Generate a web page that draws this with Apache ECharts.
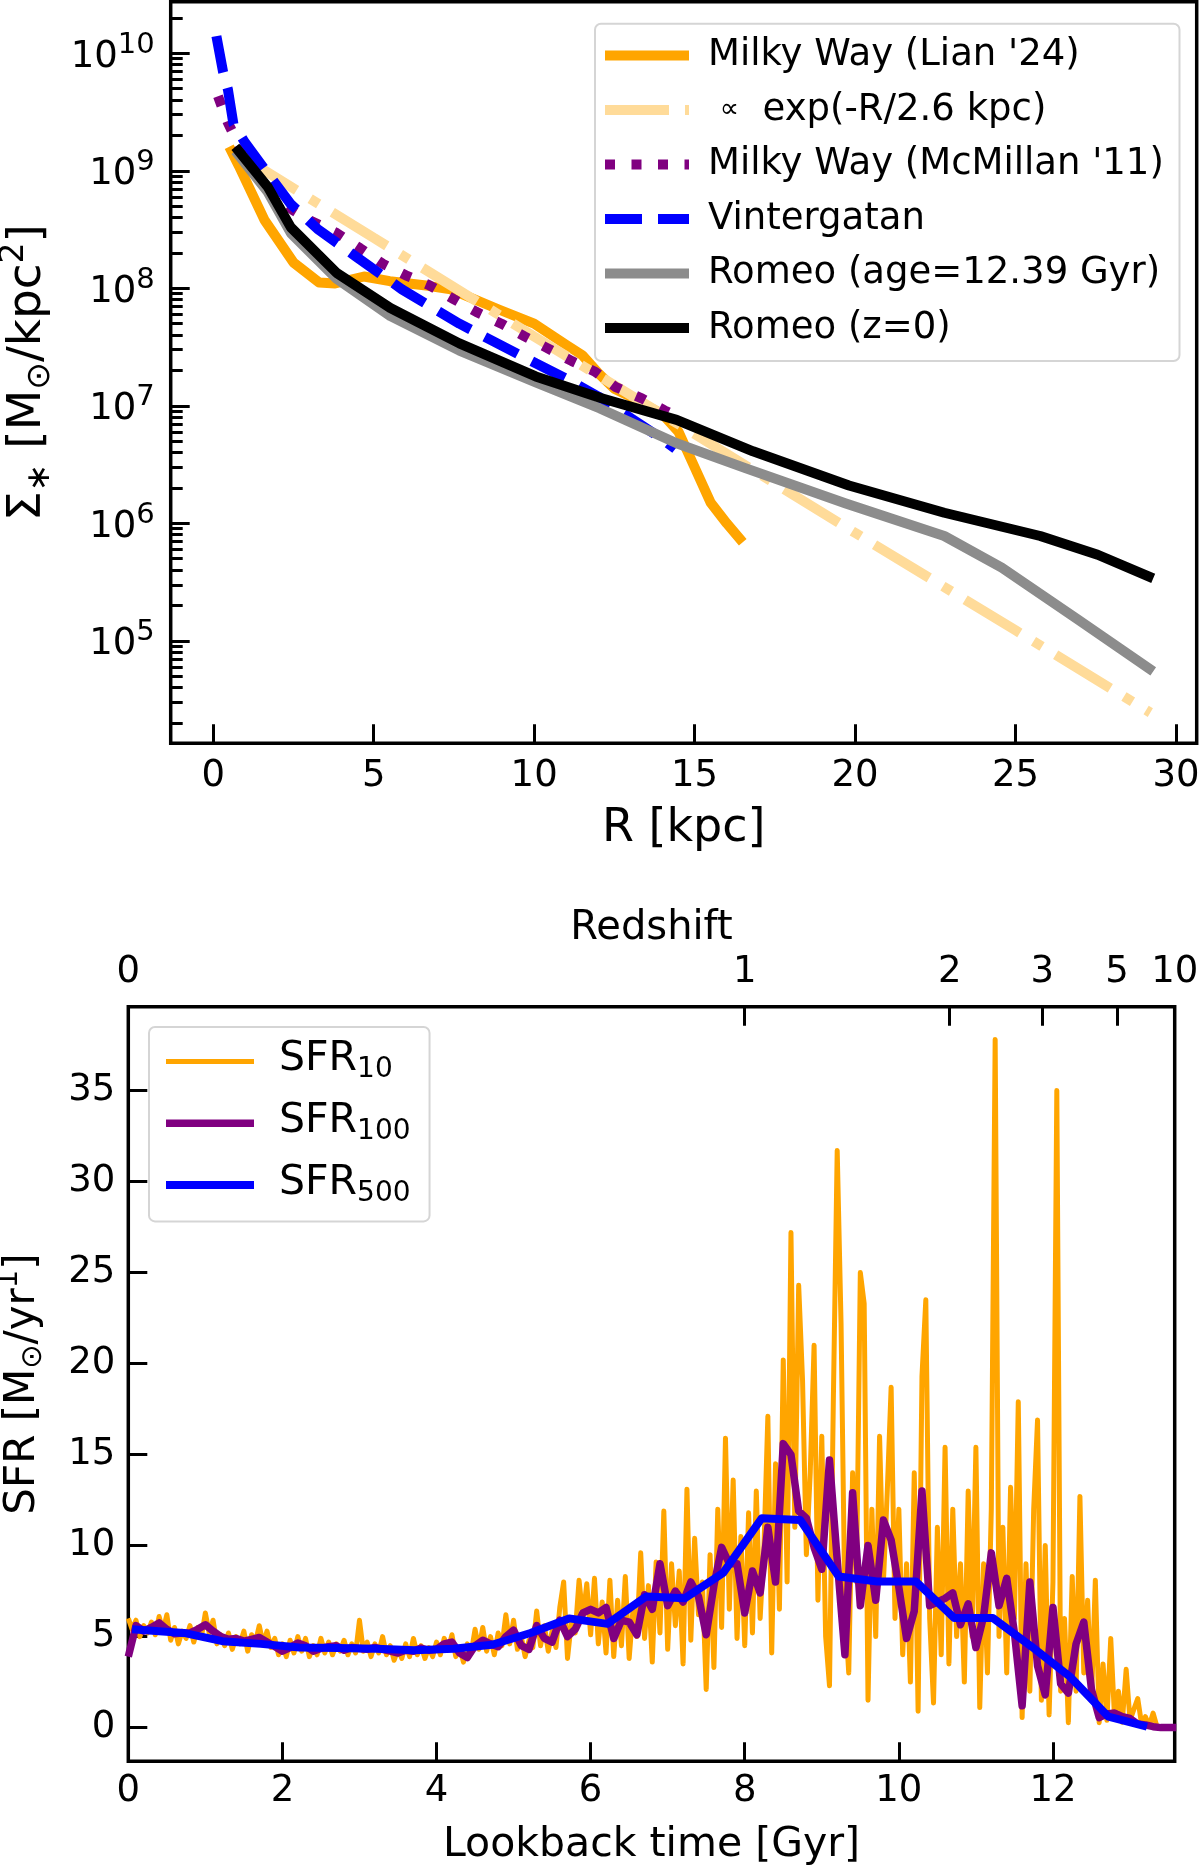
<!DOCTYPE html>
<html>
<head>
<meta charset="utf-8">
<script src="https://cdn.jsdelivr.net/npm/echarts@6/dist/echarts.min.js"></script>
<style>
html, body { margin: 0; padding: 0; background: #fff; }
#chart { width: 1200px; height: 1868px; }
</style>
</head>
<body>
<div id="chart"></div>
<script>
var FONT = 'DejaVu Sans';

// ---- top panel: stellar surface density, R [kpc] vs Sigma [Msun/kpc^2] ----
var lianR = [0.5, 0.8, 1.6, 2.5, 3.3, 3.8, 4.7, 5.5, 6.7, 7.4, 8.9, 10, 11, 11.5, 12, 12.5, 13, 13.5, 14, 14.5, 15, 15.5, 16, 16.5];
var lianSigma = [1.6e9, 1.1e9, 3.8e8, 1.66e8, 1.12e8, 1.1e8, 1.26e8, 1.15e8, 1.05e8, 9.8e7, 6.6e7, 5.0e7, 3.3e7, 2.7e7, 1.9e7, 1.4e7, 1.2e7, 1.0e7, 8.5e6, 6.0e6, 3.0e6, 1.5e6, 1.0e6, 6.9e5];

var expR = [0.9, 5, 10, 15, 20, 25, 29.2];
var expSigma = [1.32e9, 2.69e8, 3.89e7, 5.75e6, 8.3e5, 1.23e5, 2.45e4];

var mcmR = [0.15, 0.45, 1, 1.5, 2, 2.5, 3, 3.85, 4.57, 5.28, 6, 6.71, 7.49, 8.2, 8.98, 9.7, 10.41, 11.18, 11.9, 12.53, 13.37, 14.08, 14.3];
var mcmSigma = [4.3e9, 2.6e9, 1.26e9, 7.9e8, 5.8e8, 4.6e8, 3.8e8, 2.95e8, 2.2e8, 1.62e8, 1.29e8, 1.07e8, 8.1e7, 6.3e7, 5.0e7, 3.9e7, 3.1e7, 2.4e7, 1.95e7, 1.45e7, 1.15e7, 9.1e6, 8.5e6];

var vinR = [0.1, 0.31, 0.46, 0.63, 0.99, 1.7, 2.42, 3.25, 4.45, 5.88, 7.67, 10.05, 11, 12, 13, 14, 14.4];
var vinSigma = [1.4e10, 6.9e9, 4.9e9, 2.5e9, 1.74e9, 9.5e8, 5.2e8, 3.2e8, 1.86e8, 9.8e7, 5.0e7, 2.3e7, 1.7e7, 1.2e7, 7.9e6, 5.2e6, 4.3e6];

var romeoOldR = [0.69, 1.7, 2.42, 3.85, 5.52, 7.67, 10.05, 12.05, 14.44, 16.58, 19.69, 22.78, 24.57, 26.96, 29.29];
var romeoOldSigma = [1.48e9, 6.6e8, 2.95e8, 1.2e8, 5.8e7, 2.95e7, 1.58e7, 9.5e6, 4.8e6, 2.95e6, 1.48e6, 7.8e5, 4.2e5, 1.51e5, 5.5e4];

var romeoR = [0.69, 1.7, 2.42, 3.85, 5.52, 7.67, 10.05, 12.05, 14.44, 16.82, 19.81, 22.78, 25.77, 27.56, 29.29];
var romeoSigma = [1.6e9, 7.3e8, 3.3e8, 1.35e8, 6.8e7, 3.4e7, 1.78e7, 1.17e7, 7.6e6, 4.1e6, 2.1e6, 1.23e6, 7.8e5, 5.4e5, 3.4e5];

var rTicks = [0, 5, 10, 15, 20, 25, 30];
var sigmaMajor = [1e5, 1e6, 1e7, 1e8, 1e9, 1e10];

// ---- bottom panel: star formation history vs lookback time [Gyr] ----
var sfr10Step = 0.05; // Gyr, first value at t = 0
var sfr10 = [
  6.0, 5.4, 5.9, 5.0, 5.6, 5.2, 5.8, 5.1, 6.1, 5.3, 6.2, 4.8, 5.5, 4.6, 5.3, 4.9, 5.6, 4.7, 5.5, 5.0,
  6.3, 5.2, 5.9, 4.6, 5.1, 4.5, 5.2, 4.3, 5.0, 4.6, 5.3, 4.2, 5.1, 4.7, 5.6, 4.6, 5.3, 4.4, 4.9, 4.0,
  4.6, 3.9, 4.8, 4.1, 5.0, 4.2, 4.9, 3.9, 4.5, 4.0, 4.9, 4.1, 4.7, 4.0, 4.6, 4.2, 4.8, 4.0, 4.6, 4.1,
  5.9, 4.2, 4.7, 3.9, 4.6, 4.1, 5.0, 4.0, 4.5, 3.7, 4.3, 3.8, 4.6, 3.9, 4.9, 4.0, 4.5, 3.8, 4.4, 3.9,
  4.7, 4.0, 4.9, 4.3, 5.1, 3.9, 4.4, 3.6, 4.6, 4.1, 5.4, 4.3, 5.5, 4.2, 5.0, 4.0, 5.2, 4.5, 6.2, 4.6,
  5.9, 4.3, 5.0, 3.9, 4.8, 4.4, 6.4, 4.5, 5.6, 4.2, 5.3, 4.4, 6.6, 8.0, 3.8, 5.8, 5.2, 8.1, 6.0, 7.9,
  5.1, 8.2, 4.6, 6.9, 4.1, 8.1, 3.9, 7.0, 4.5, 8.3, 3.8, 6.5, 5.0, 9.6, 4.9, 7.8, 3.6, 9.1, 5.2, 11.9,
  4.3, 9.0, 5.6, 8.6, 3.5, 13.1, 4.8, 10.4, 6.2, 8.0, 2.1, 9.5, 3.3, 12.0, 5.5, 15.9, 6.5, 13.6, 4.9, 10.5,
  4.5, 11.8, 5.2, 13.0, 6.0, 10.0, 17.1, 4.1, 14.5, 6.5, 20.2, 8.0, 27.2, 11.0, 24.3, 19.1, 9.5, 14.0, 21.0, 7.0,
  16.0, 5.0, 2.3, 18.0, 31.7, 22.2, 6.5, 3.0, 14.0, 8.0, 25.0, 23.3, 1.5, 12.0, 5.0, 16.0, 8.0, 13.0, 18.7, 6.0,
  12.0, 4.0, 9.0, 2.5, 14.0, 0.9, 19.3, 23.5, 6.0, 1.35, 11.0, 4.0, 15.4, 3.5, 12.0, 5.0, 9.0, 2.5, 13.0, 5.0,
  15.4, 1.1, 9.0, 3.0, 12.0, 37.8, 5.0, 11.0, 3.0, 13.2, 6.0, 17.9, 0.55, 9.0, 2.0, 12.0, 16.9, 1.5, 10.0, 0.7,
  8.0, 35.0, 2.0, 6.0, 0.27, 8.3, 2.0, 12.7, 3.0, 7.0, 1.5, 8.1, 0.27, 3.5, 0.4, 4.9, 0.5, 2.0, 0.3, 3.2,
  0.4, 1.0, 1.6, 0.2, 0.6, 0.1, 0.8, 0.05
];

var sfr100Step = 0.1; // Gyr, first value at t = 0
var sfr100 = [
  3.9, 5.6, 5.3, 5.5, 5.75, 5.4, 5.15, 5.2, 5.2, 5.4,
  5.65, 5.3, 5.0, 4.85, 4.9, 4.75, 4.85, 4.95, 4.7, 4.45,
  4.2, 4.4, 4.65, 4.5, 4.2, 4.35, 4.45, 4.5, 4.25, 4.4,
  4.35, 4.3, 4.4, 4.3, 4.2, 4.1, 4.25, 4.2, 4.37, 4.25,
  4.3, 4.6, 4.7, 4.1, 3.85, 4.5, 4.8, 4.6, 4.45, 5.0,
  5.35, 4.5, 4.3, 5.6, 4.9, 4.7, 5.9, 5.0, 5.4, 6.3,
  6.5, 6.3, 6.6, 4.9, 5.9, 5.8, 5.1, 7.3, 6.5, 9.0,
  6.7, 7.5, 6.9, 8.0, 7.2, 5.1, 7.8, 9.9, 9.0, 9.0,
  6.3, 8.6, 7.4, 11.0, 8.0, 15.6, 15.0, 11.9, 11.5, 9.9,
  8.7, 14.7, 9.2, 4.0, 12.9, 6.7, 10.0, 7.0, 11.4, 10.3,
  7.7, 4.9, 6.4, 13.0, 6.7, 6.9, 7.1, 7.4, 5.65, 6.8,
  4.4, 6.1, 9.6, 6.7, 8.2, 5.2, 1.2, 8.0, 3.4, 1.8,
  6.6, 2.4, 1.9, 4.6, 5.8, 2.1, 0.55, 0.75, 0.8, 0.6,
  0.5, 0.2, 0.15, 0.05, 0.0, 0.0, 0.0
];

var sfr500T = [0.05, 0.22, 0.72, 1.22, 1.72, 2.22, 2.72, 3.22, 3.72, 4.22, 4.72, 5.22, 5.72, 6.22, 6.72, 7.22, 7.72, 8.22, 8.72, 9.22, 9.72, 10.22, 10.72, 11.22, 11.72, 12.22, 12.72, 13.22];
var sfr500 = [5.4, 5.35, 5.2, 4.75, 4.6, 4.4, 4.37, 4.33, 4.25, 4.33, 4.55, 5.2, 6.0, 5.7, 7.2, 7.1, 8.5, 11.5, 11.4, 8.3, 8.03, 8.03, 6.02, 6.02, 4.46, 2.8, 0.6, 0.05];

var lookbackTicks = [0, 2, 4, 6, 8, 10, 12];
var sfrTicks = [0, 5, 10, 15, 20, 25, 30, 35];
var redshiftLabels = ['0', '1', '2', '3', '5', '10'];
var redshiftAt = [0, 8.0, 10.66, 11.86, 12.83, 13.58]; // lookback time of each redshift tick

function zip(xs, ys) {
    var out = [];
    for (var i = 0; i < ys.length; i++) out.push([xs[i], ys[i]]);
    return out;
}
function stepped(step, ys) {
    var out = [];
    for (var i = 0; i < ys.length; i++) out.push([Math.round(i * step * 100) / 100, ys[i]]);
    return out;
}

// minor ticks of the log axis: 2..9 x 10^n
var sigmaMinor = [];
for (var e = 4; e <= 10; e++) {
    for (var m = 2; m <= 9; m++) sigmaMinor.push(m * Math.pow(10, e));
}

var dom = document.getElementById('chart');
var myChart = echarts.init(dom);

function ticks(len, values) {
    return { show: true, inside: true, length: len, customValues: values,
             lineStyle: { color: '#000', width: 3 } };
}
var noLine = { show: false, onZero: false };

var option = {
    animation: false,
    backgroundColor: '#fff',
    textStyle: { fontFamily: FONT, color: '#000' },
    grid: [
        { left: 170.7, top: 1.7, width: 1026, height: 741.6, show: true,
          borderColor: '#000', borderWidth: 3.5, outerBoundsMode: 'none' },
        { left: 128.3, top: 1006.7, width: 1046.4, height: 754.6, show: true,
          borderColor: '#000', borderWidth: 3.5, outerBoundsMode: 'none' }
    ],
    // frame of the upper legend
    graphic: [
        { type: 'rect', left: 594, top: 22.7, z: 5,
          shape: { width: 584.5, height: 337.3, r: 6 },
          style: { fill: '#fff', stroke: '#d5d5d5', lineWidth: 2 } }
    ],
    xAxis: [
        {
            gridIndex: 0, type: 'value', min: -1.324, max: 30.645,
            axisLine: noLine, splitLine: { show: false },
            axisTick: ticks(19, rTicks),
            axisLabel: { customValues: rTicks, fontSize: 37, color: '#000', margin: 15, fontFamily: FONT },
            name: 'R [kpc]', nameLocation: 'middle', nameGap: 63,
            nameTextStyle: { fontSize: 46, color: '#000', fontFamily: FONT }
        },
        {
            gridIndex: 1, type: 'value', min: 0, max: 13.58,
            axisLine: noLine, splitLine: { show: false },
            axisTick: ticks(19, lookbackTicks),
            axisLabel: { customValues: lookbackTicks, fontSize: 37, color: '#000', margin: 12, fontFamily: FONT },
            name: 'Lookback time [Gyr]', nameLocation: 'middle', nameGap: 64,
            nameTextStyle: { fontSize: 41, color: '#000', fontFamily: FONT }
        },
        {
            gridIndex: 1, type: 'value', position: 'top', min: 0, max: 13.58,
            axisLine: noLine, splitLine: { show: false },
            axisTick: ticks(19, redshiftAt),
            axisLabel: {
                customValues: redshiftAt, fontSize: 37, color: '#000', margin: 16, fontFamily: FONT,
                formatter: function (v) {
                    for (var i = 0; i < redshiftAt.length; i++) {
                        if (Math.abs(v - redshiftAt[i]) < 1e-6) return redshiftLabels[i];
                    }
                    return '';
                }
            },
            name: 'Redshift', nameLocation: 'middle', nameGap: 58,
            nameTextStyle: { fontSize: 40, color: '#000', fontFamily: FONT }
        }
    ],
    yAxis: [
        {
            gridIndex: 0, type: 'log', logBase: 10, position: 'left',
            min: Math.pow(10, 4.128), max: Math.pow(10, 10.439),
            axisLine: noLine, splitLine: { show: false }, minorTick: { show: false },
            axisTick: ticks(19, sigmaMajor),
            axisLabel: {
                customValues: sigmaMajor, margin: 16, color: '#000',
                formatter: function (v) {
                    return '{b|10}{p|' + Math.round(Math.log10(v)) + '}';
                },
                rich: {
                    b: { fontSize: 37, fontFamily: FONT, color: '#000', verticalAlign: 'bottom' },
                    p: { fontSize: 29, fontFamily: FONT, color: '#000', verticalAlign: 'bottom', padding: [0, 0, 16, 0] }
                }
            },
            name: '{m|Σ}{s|∗}{m| [M}{s|⊙}{m|/kpc}{p|2}{m|]}',
            nameLocation: 'middle', nameRotate: 90, nameGap: 114,
            nameTextStyle: {
                rich: {
                    m: { fontSize: 47, fontFamily: FONT, color: '#000', verticalAlign: 'bottom', padding: [0, 0, 5, 0] },
                    s: { fontSize: 33, fontFamily: FONT, color: '#000', verticalAlign: 'bottom' },
                    p: { fontSize: 33, fontFamily: FONT, color: '#000', verticalAlign: 'bottom', padding: [0, 0, 26, 0] }
                }
            }
        },
        {
            gridIndex: 0, type: 'log', logBase: 10, position: 'left',
            min: Math.pow(10, 4.128), max: Math.pow(10, 10.439),
            axisLine: noLine, splitLine: { show: false }, minorTick: { show: false },
            axisTick: ticks(12, sigmaMinor),
            axisLabel: { show: false }
        },
        {
            gridIndex: 1, type: 'value', min: -1.85, max: 39.6,
            axisLine: noLine, splitLine: { show: false },
            axisTick: ticks(19, sfrTicks),
            axisLabel: { customValues: sfrTicks, fontSize: 37, color: '#000', margin: 13, fontFamily: FONT },
            name: '{m|SFR [M}{s|⊙}{m|/yr}{p|1}{m|]}',
            nameLocation: 'middle', nameRotate: 90, nameGap: 80,
            nameTextStyle: {
                rich: {
                    m: { fontSize: 42, fontFamily: FONT, color: '#000', verticalAlign: 'bottom', padding: [0, 0, 4.5, 0] },
                    s: { fontSize: 29, fontFamily: FONT, color: '#000', verticalAlign: 'bottom' },
                    p: { fontSize: 29, fontFamily: FONT, color: '#000', verticalAlign: 'bottom', padding: [0, 0, 24, 0] }
                }
            }
        }
    ],
    legend: [
        {
            data: ["Milky Way (Lian '24)", '∝ exp(-R/2.6 kpc)', "Milky Way (McMillan '11)",
                   'Vintergatan', 'Romeo (age=12.39 Gyr)', 'Romeo (z=0)'],
            orient: 'vertical', left: 600, top: 35.5, padding: 0, z: 6,
            itemWidth: 84, itemHeight: 14, itemGap: 14.5,
            selectedMode: false,
            lineStyle: { width: 'inherit' }, itemStyle: { opacity: 0 },
            textStyle: {
                fontSize: 37, lineHeight: 40, fontFamily: FONT, color: '#000', padding: [0, 0, 0, 14],
                rich: { s: { fontSize: 27, lineHeight: 40, fontFamily: FONT, color: '#000' } }
            },
            formatter: function (name) {
                if (name.charAt(0) === '∝') return ' {s|∝}  ' + name.slice(2);
                return name;
            }
        },
        {
            data: ['SFR10', 'SFR100', 'SFR500'],
            orient: 'vertical', left: 149, top: 1027, padding: [12, 19, 14, 13],
            itemWidth: 88, itemHeight: 14, itemGap: 16.7,
            backgroundColor: '#fff', borderColor: '#d5d5d5', borderWidth: 2, borderRadius: 6,
            selectedMode: false,
            lineStyle: { width: 'inherit' }, itemStyle: { opacity: 0 },
            textStyle: {
                fontFamily: FONT, color: '#000', padding: [0, 0, 0, 20],
                rich: {
                    m: { fontSize: 41, fontFamily: FONT, color: '#000', verticalAlign: 'bottom', padding: [0, 0, 4, 0] },
                    s: { fontSize: 28, fontFamily: FONT, color: '#000', verticalAlign: 'bottom' }
                }
            },
            formatter: function (name) {
                return '{m|SFR}{s|' + name.slice(3) + '}';
            }
        }
    ],
    series: [
        { name: "Milky Way (Lian '24)", type: 'line', xAxisIndex: 0, yAxisIndex: 0, symbol: 'none',
          data: zip(lianR, lianSigma),
          lineStyle: { color: '#FFA500', width: 10, join: 'round' }, itemStyle: { color: '#FFA500' } },
        { name: '∝ exp(-R/2.6 kpc)', type: 'line', xAxisIndex: 0, yAxisIndex: 0, symbol: 'none',
          data: zip(expR, expSigma),
          lineStyle: { color: '#FFDB99', width: 10, type: [64, 16, 10, 16] }, itemStyle: { color: '#FFDB99' } },
        { name: "Milky Way (McMillan '11)", type: 'line', xAxisIndex: 0, yAxisIndex: 0, symbol: 'none',
          data: zip(mcmR, mcmSigma),
          lineStyle: { color: '#800080', width: 10, type: [10, 16.5] }, itemStyle: { color: '#800080' } },
        { name: 'Vintergatan', type: 'line', xAxisIndex: 0, yAxisIndex: 0, symbol: 'none',
          data: zip(vinR, vinSigma),
          lineStyle: { color: '#0000FF', width: 10, type: [37, 16] }, itemStyle: { color: '#0000FF' } },
        { name: 'Romeo (age=12.39 Gyr)', type: 'line', xAxisIndex: 0, yAxisIndex: 0, symbol: 'none',
          data: zip(romeoOldR, romeoOldSigma),
          lineStyle: { color: '#8c8c8c', width: 10, join: 'round' }, itemStyle: { color: '#8c8c8c' } },
        { name: 'Romeo (z=0)', type: 'line', xAxisIndex: 0, yAxisIndex: 0, symbol: 'none',
          data: zip(romeoR, romeoSigma),
          lineStyle: { color: '#000000', width: 10, join: 'round' }, itemStyle: { color: '#000000' } },

        { name: 'SFR10', type: 'line', xAxisIndex: 1, yAxisIndex: 2, symbol: 'none',
          data: stepped(sfr10Step, sfr10),
          lineStyle: { color: '#FFA500', width: 5, join: 'round' }, itemStyle: { color: '#FFA500' } },
        { name: 'SFR100', type: 'line', xAxisIndex: 1, yAxisIndex: 2, symbol: 'none',
          data: stepped(sfr100Step, sfr100),
          lineStyle: { color: '#800080', width: 7.5, join: 'round' }, itemStyle: { color: '#800080' } },
        { name: 'SFR500', type: 'line', xAxisIndex: 1, yAxisIndex: 2, symbol: 'none',
          data: zip(sfr500T, sfr500),
          lineStyle: { color: '#0000FF', width: 8, join: 'round' }, itemStyle: { color: '#0000FF' } }
    ]
};

if (option && typeof option === 'object') {
    myChart.setOption(option, true);
}
</script>
</body>
</html>
